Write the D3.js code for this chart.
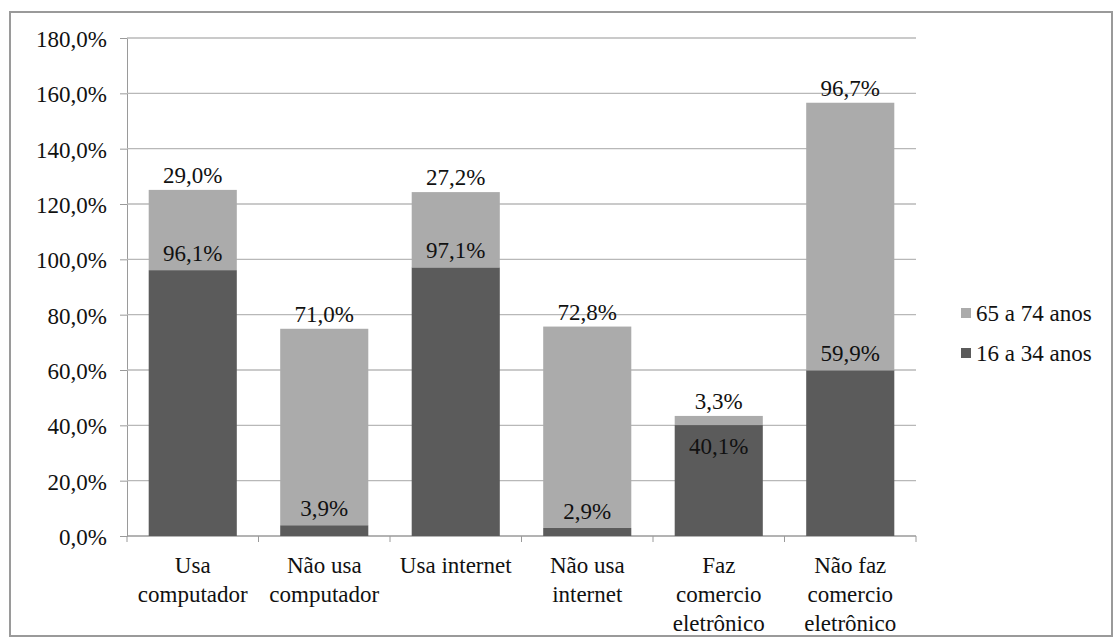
<!DOCTYPE html>
<html>
<head>
<meta charset="utf-8">
<script src="https://cdn.jsdelivr.net/npm/d3@7"></script>
<style>
  body { margin: 0; background: #fff; }
  svg text { font-family: "Liberation Serif", "Times New Roman", serif; }
</style>
</head>
<body>
<svg id="chart"></svg>
<script>
const width = 1117;
const height = 644;

const categories = [
    ['Usa', 'computador'],
    ['Não usa', 'computador'],
    ['Usa internet'],
    ['Não usa', 'internet'],
    ['Faz', 'comercio', 'eletrônico'],
    ['Não faz', 'comercio', 'eletrônico']
];
const young = [96.1, 3.9, 97.1, 2.9, 40.1, 59.9];   // 16 a 34 anos
const old = [29.0, 71.0, 27.2, 72.8, 3.3, 96.7];    // 65 a 74 anos
const yTicks = [0, 20, 40, 60, 80, 100, 120, 140, 160, 180];
const seriesNames = ['65 a 74 anos', '16 a 34 anos'];

const colors = { young: '#5b5b5b', old: '#ababab' };

const margin = { left: 127, right: 201, top: 38, bottom: 108 };

const fmt = v => v.toFixed(1).replace('.', ',') + '%';

const svg = d3.select('#chart')
    .attr('width', width)
    .attr('height', height);

// outer frame
svg.append('rect')
    .attr('x', 10).attr('y', 12)
    .attr('width', 1102).attr('height', 624)
    .attr('fill', '#fff')
    .attr('stroke', '#9a9a9a')
    .attr('stroke-width', 2);

const x = d3.scaleBand()
    .domain(d3.range(categories.length))
    .range([margin.left, width - margin.right])
    .paddingInner(0.33)
    .paddingOuter(0.165);

const xTicks = d3.scaleBand()
    .domain(d3.range(categories.length))
    .range([margin.left, width - margin.right]);

const y = d3.scaleLinear()
    .domain([0, 180])
    .range([height - margin.bottom, margin.top]);

const txt = (g, s, px, py, anchor) => g.append('text')
    .attr('x', px).attr('y', py)
    .attr('text-anchor', anchor || 'middle')
    .attr('dy', '0.35em')
    .style('font-family', '"Liberation Serif", "Times New Roman", serif')
    .style('font-size', s + 'px')
    .attr('fill', '#111');

// y axis + grid
const yAxis = svg.append('g')
    .attr('transform', `translate(${margin.left},0)`)
    .call(d3.axisLeft(y).tickValues(yTicks).tickSize(7).tickFormat(''));
yAxis.select('.domain').attr('stroke', '#9a9a9a');
yAxis.selectAll('.tick line').attr('stroke', '#9a9a9a');

svg.append('g').selectAll('line')
    .data(yTicks.filter(t => t > 0))
    .join('line')
    .attr('x1', margin.left).attr('x2', width - margin.right)
    .attr('y1', d => y(d)).attr('y2', d => y(d))
    .attr('stroke', '#b8b8b8')
    .attr('stroke-width', 1.3);

const yLab = svg.append('g');
yTicks.forEach(t => txt(yLab, 23, 107, y(t) + 1, 'end').text(fmt(t)));

// x axis
const xAxis = svg.append('g')
    .attr('transform', `translate(0,${y(0)})`);
xAxis.append('line')
    .attr('x1', margin.left).attr('x2', width - margin.right)
    .attr('stroke', '#9a9a9a').attr('stroke-width', 1.3);
xAxis.selectAll('.xt')
    .data(d3.range(categories.length + 1))
    .join('line')
    .attr('class', 'xt')
    .attr('x1', i => margin.left + i * xTicks.step())
    .attr('x2', i => margin.left + i * xTicks.step())
    .attr('y1', 0).attr('y2', 6)
    .attr('stroke', '#9a9a9a');

// stacked bars
const bars = svg.append('g');
categories.forEach((c, i) => {
    bars.append('rect')
        .attr('x', x(i)).attr('width', x.bandwidth())
        .attr('y', y(young[i])).attr('height', y(0) - y(young[i]))
        .attr('fill', colors.young);
    bars.append('rect')
        .attr('x', x(i)).attr('width', x.bandwidth())
        .attr('y', y(young[i] + old[i])).attr('height', y(young[i]) - y(young[i] + old[i]))
        .attr('fill', colors.old);
});

// data labels
const labels = svg.append('g');
categories.forEach((c, i) => {
    const cx = x(i) + x.bandwidth() / 2;
    const dy = old[i] < 10 ? 21 : -17;
    txt(labels, 23, cx, y(young[i]) + dy).text(fmt(young[i]));
    txt(labels, 23, cx, y(young[i] + old[i]) - 15).text(fmt(old[i]));
});

// category labels
const cats = svg.append('g');
categories.forEach((lines, i) => {
    const cx = xTicks(i) + xTicks.bandwidth() / 2;
    lines.forEach((ln, k) => txt(cats, 23, cx, 565 + k * 29).text(ln));
});

// legend
const legend = svg.append('g');
[['old', seriesNames[0]], ['young', seriesNames[1]]].forEach(([k, name], j) => {
    const ly = 313 + j * 40;
    legend.append('rect')
        .attr('x', 961).attr('y', ly - 5)
        .attr('width', 10).attr('height', 10)
        .attr('fill', colors[k]);
    txt(legend, 23, 976, ly, 'start').text(name);
});
</script>
</body>
</html>
